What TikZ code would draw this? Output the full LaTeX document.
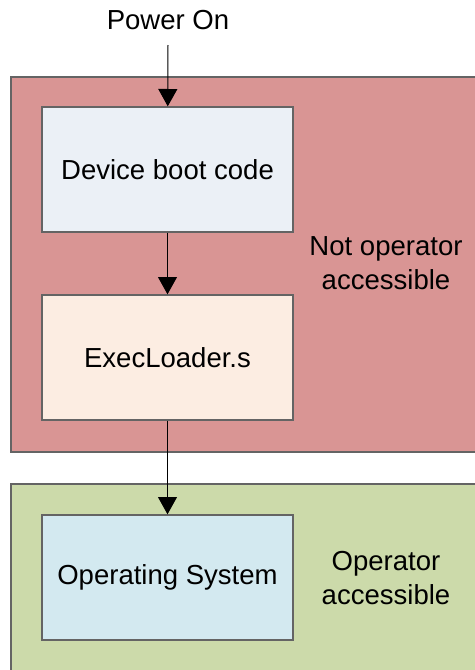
\documentclass[tikz,border=0pt]{standalone}
\usepackage{fontspec}
\setmainfont{Liberation Sans}
\usetikzlibrary{arrows.meta}

\definecolor{lockred}{RGB}{217,149,148}
\definecolor{opengreen}{RGB}{204,218,170}
\definecolor{bootfill}{RGB}{235,240,246}
\definecolor{loaderfill}{RGB}{252,237,226}
\definecolor{osfill}{RGB}{211,233,240}
\definecolor{edgegray}{RGB}{100,100,100}

\tikzset{
  stagebox/.style={draw=edgegray, line width=0.04cm, minimum width=7.53cm, minimum height=3.75cm, inner sep=0pt},
  zone/.style={draw=edgegray, line width=0.04cm},
  flow/.style={draw=black, line width=0.03cm, -{Triangle[width=0.57cm,length=0.52cm]}},
  label/.style={align=center}
}

\begin{document}
\begin{tikzpicture}[x=0.03cm, y=-0.03cm, font=\fontsize{23.5}{29}\selectfont]
		%%%%% START %%%%%
		\useasboundingbox (0, 0) rectangle (475, 670);
		
		% protected and open regions
		\draw[zone, fill=lockred] (11, 77) rectangle (490, 452);
		\draw[zone, fill=opengreen] (11, 484) rectangle (490, 690);
		
		\node[label] (lockedtxt) at (386, 263) {Not operator\\accessible};
		\node[label] (opentxt) at (386, 578) {Operator\\accessible};
		
		% boot stages
		\node (power) at (168, 20) {Power On};
		\coordinate (powerin) at (168, 45);
		\node[stagebox, fill=bootfill] (boot) at (167.5, 169.5) {Device boot code};
		\node[stagebox, fill=loaderfill] (loader) at (167.5, 357.5) {ExecLoader.s};
		\node[stagebox, fill=osfill] (os) at (167.5, 577.5) {Operating System};
		
		\draw[flow] (powerin) -- (boot);
		\draw[flow] (boot) -- (loader);
		\draw[flow] (loader) -- (os);
		%%%%% END %%%%%
	\end{tikzpicture}
\end{document}
